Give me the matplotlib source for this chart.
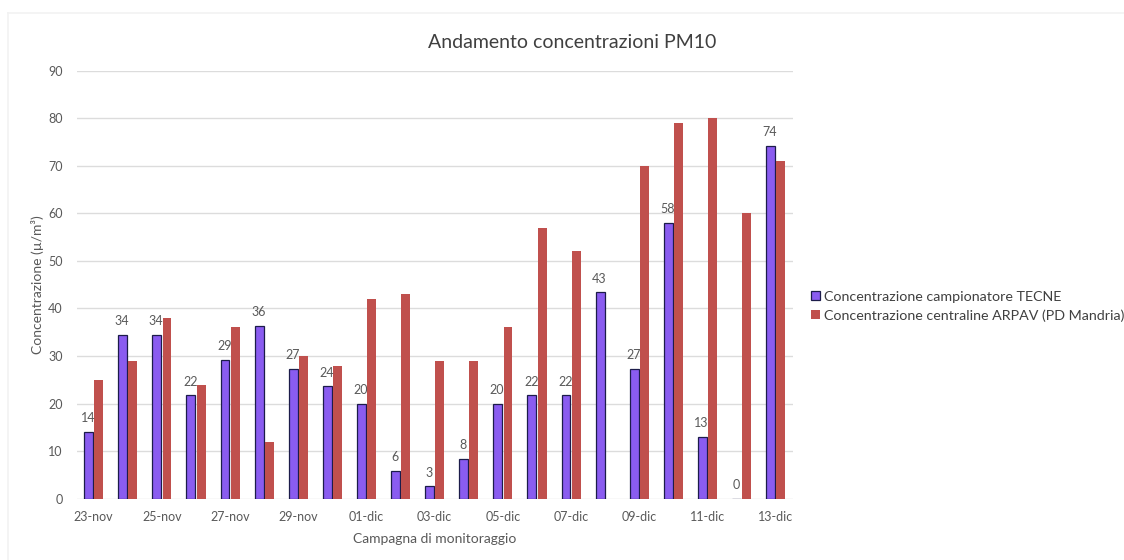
import numpy as np
import matplotlib.pyplot as plt
from matplotlib.lines import Line2D

plt.rcParams['font.family'] = ['Lato', 'DejaVu Sans']

# Days of the monitoring campaign
days = ['23-nov', '24-nov', '25-nov', '26-nov', '27-nov', '28-nov', '29-nov',
        '30-nov', '01-dic', '02-dic', '03-dic', '04-dic', '05-dic', '06-dic',
        '07-dic', '08-dic', '09-dic', '10-dic', '11-dic', '12-dic', '13-dic']

# PM10 from the TECNE sampler
tecne = [14.1, 34.4, 34.4, 21.7, 29.2, 36.3, 27.3, 23.6, 19.9, 5.8, 2.6,
         8.4, 19.9, 21.7, 21.7, 43.4, 27.3, 58.0, 13.0, 0.0, 74.2]

# PM10 from the ARPAV station (PD Mandria), no value on 08-dic
arpav = [25, 29, 38, 24, 36, 12, 30, 28, 42, 43, 29, 29, 36, 57, 52,
         np.nan, 70, 79, 80, 60, 71]

purple = '#8a5cf0'
red = '#c0504d'
grey = '#595959'

fig = plt.figure(figsize=(11.24, 5.60), dpi=100)
ax = fig.add_axes([0.0682, 0.1095, 0.6371, 0.7643])

x = np.arange(len(days))
w = 0.26
ax.bar(x - 0.15, tecne, w, color=purple, edgecolor='#1c1c4a',
       linewidth=0.9, label='Concentrazione campionatore TECNE', zorder=3)
ax.bar(x + 0.15, arpav, w, color=red, linewidth=0,
       label='Concentrazione centraline ARPAV (PD Mandria)', zorder=3)

for xi, v in zip(x, tecne):
    ax.text(xi - 0.17, v + 1.6, f'{v:.0f}', ha='center', va='bottom',
            fontsize=9, color=grey, zorder=4)

ax.set_xlim(-0.5, len(days) - 0.5)
ax.set_ylim(0, 90)
ax.set_yticks(np.arange(0, 91, 10))
ax.set_xticks(x[::2])
ax.set_xticklabels(days[::2])
ax.tick_params(axis='both', length=0, labelsize=9, colors=grey)
ax.tick_params(axis='y', pad=10)
ax.tick_params(axis='x', pad=9)
ax.grid(axis='y', color='#dcdcdc', linewidth=1, zorder=0)
for s in ax.spines.values():
    s.set_visible(False)

ax.set_xlabel('Campagna di monitoraggio', fontsize=10, color=grey, labelpad=7)
ax.set_ylabel('Concentrazione (µ/m³)', fontsize=10, color=grey, labelpad=3)
fig.text(0.509, 0.925, 'Andamento concentrazioni PM10', ha='center',
         va='center', fontsize=14, color='#404040')

ax.legend(loc='center left', bbox_to_anchor=(1.008, 0.45), frameon=False,
          fontsize=10.3, labelcolor='#404040', handlelength=0.6, handleheight=0.6,
          handletextpad=0.3, labelspacing=0.45)

# faint frame lines along the top and left edge of the chart area
fig.add_artist(Line2D([0.007, 1.0], [0.977, 0.977], transform=fig.transFigure,
                      color='#f2f2f2', linewidth=1.2))
fig.add_artist(Line2D([0.007, 0.007], [0.0, 0.977], transform=fig.transFigure,
                      color='#f2f2f2', linewidth=1.2))

fig.savefig('out.png', dpi=100, facecolor='white')
